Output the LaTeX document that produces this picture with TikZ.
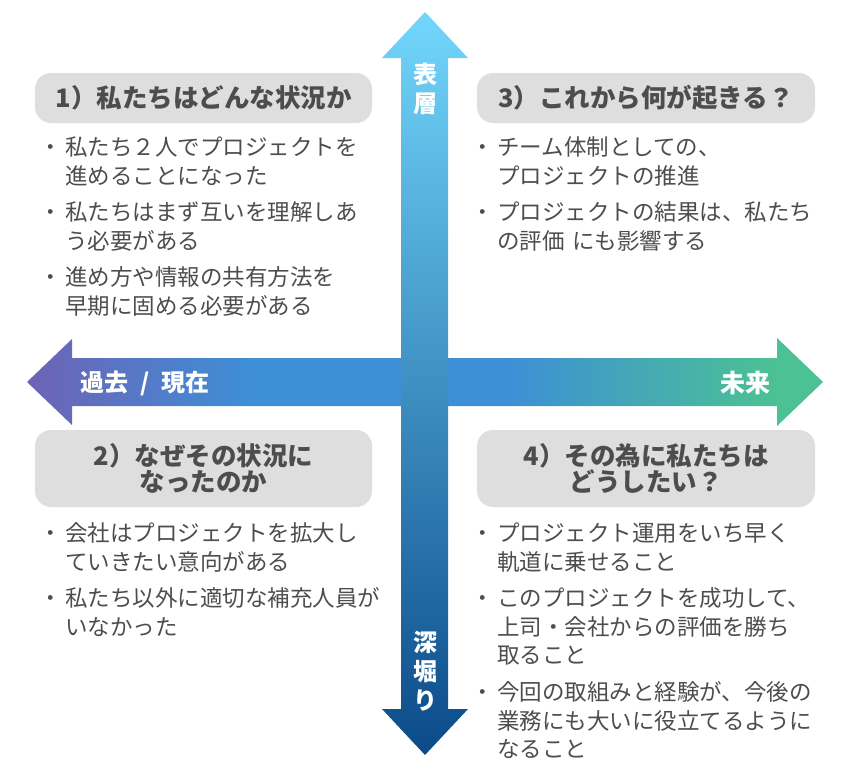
\documentclass[tikz,border=0pt]{standalone}
\usepackage{fontspec}
\setmainfont{Noto Sans CJK JP}
\definecolor{textgray}{HTML}{4D4D4D}
\definecolor{boxgray}{HTML}{DEDEDE}
\definecolor{uptop}{HTML}{72D6FB}
\definecolor{upmid}{HTML}{3A93D6}
\definecolor{downend}{HTML}{0B4A89}
\definecolor{pastend}{HTML}{6E62B6}
\definecolor{hblue}{HTML}{3D8FD6}
\definecolor{futureend}{HTML}{4CC193}
\pgfdeclarehorizontalshading{pastfuture}{100bp}{color(0bp)=(pastend); color(25bp)=(pastend); color(39bp)=(hblue); color(55bp)=(hblue); color(72bp)=(futureend); color(100bp)=(futureend)}
\tikzstyle{styletitle} = [rectangle, rounded corners=16pt, fill=boxgray, text=textgray, align=center, inner sep=0pt, font=\fontsize{25.5}{26}\selectfont\bfseries]
\tikzstyle{styleitem} = [anchor=base west, text width=330pt, align=left, inner sep=0pt, text=textgray, font=\fontsize{22.5}{28.5}\selectfont]
\tikzstyle{stylelabel} = [text=white, align=center, inner sep=0pt, font=\fontsize{24}{29}\selectfont\bfseries]
\tikzstyle{stylehoriz} = [shading=pastfuture]
\tikzstyle{stylevert} = [top color=uptop, middle color=upmid, bottom color=downend]
\newcommand{\bul}{\llap{・\kern3pt}}

\begin{document}
\begin{tikzpicture}[x=1pt, y=-1pt]
\useasboundingbox (0,0) rectangle (850,764);

% axes
\shade[stylehoriz] (27,382) -- (72,339) -- (72,358) -- (777,358) -- (777,338) -- (823,382)
  -- (777,426) -- (777,406) -- (72,406) -- (72,425) -- cycle;
\shade[stylevert] (425,12) -- (468,58) -- (448,58) -- (448,709) -- (468,709) -- (425,755)
  -- (382,709) -- (401,709) -- (401,58) -- (382,58) -- cycle;

\node (lup) [stylelabel] at (425,88.5) {表\\層};
\node (ldown) [stylelabel] at (425,671) {深\\堀\\り};
\node (lpast) [stylelabel] at (145,383) {過去\hspace{12pt}/\hspace{12pt}現在};
\node (lfuture) [stylelabel, font=\fontsize{25}{29}\selectfont\bfseries] at (745,383) {未来};

% quadrant titles
\node (t1) [styletitle, minimum width=337pt, minimum height=50pt] at (203.5,98) {1）私たちはどんな状況か};
\node (t3) [styletitle, minimum width=338pt, minimum height=50pt] at (646,98) {3）これから何が起きる？};
\node (t2) [styletitle, minimum width=337pt, minimum height=77pt] at (203.5,468.5) {2）なぜその状況に\\なったのか};
\node (t4) [styletitle, minimum width=338pt, minimum height=77pt] at (646,468.5) {4）その為に私たちは\\どうしたい？};

% bullets
\node (i11) [styleitem] at (65,155.5) {\bul 私たち２人でプロジェクトを\\進めることになった};
\node (i12) [styleitem] at (65,220.5) {\bul 私たちはまず互いを理解しあ\\う必要がある};
\node (i13) [styleitem] at (65,285.5) {\bul 進め方や情報の共有方法を\\早期に固める必要がある};

\node (i31) [styleitem] at (497,155.5) {\bul チーム体制としての、\\プロジェクトの推進};
\node (i32) [styleitem] at (497,220.5) {\bul プロジェクトの結果は、私たち\\の評価 にも影響する};

\node (i21) [styleitem] at (65,541.5) {\bul 会社はプロジェクトを拡大し\\ていきたい意向がある};
\node (i22) [styleitem] at (65,606.5) {\bul 私たち以外に適切な補充人員が\\いなかった};

\node (i41) [styleitem] at (497,541.5) {\bul プロジェクト運用をいち早く\\軌道に乗せること};
\node (i42) [styleitem] at (497,606.5) {\bul このプロジェクトを成功して、\\上司・会社からの評価を勝ち\\取ること};
\node (i43) [styleitem] at (497,700.5) {\bul 今回の取組みと経験が、今後の\\業務にも大いに役立てるように\\なること};

\end{tikzpicture}
\end{document}
